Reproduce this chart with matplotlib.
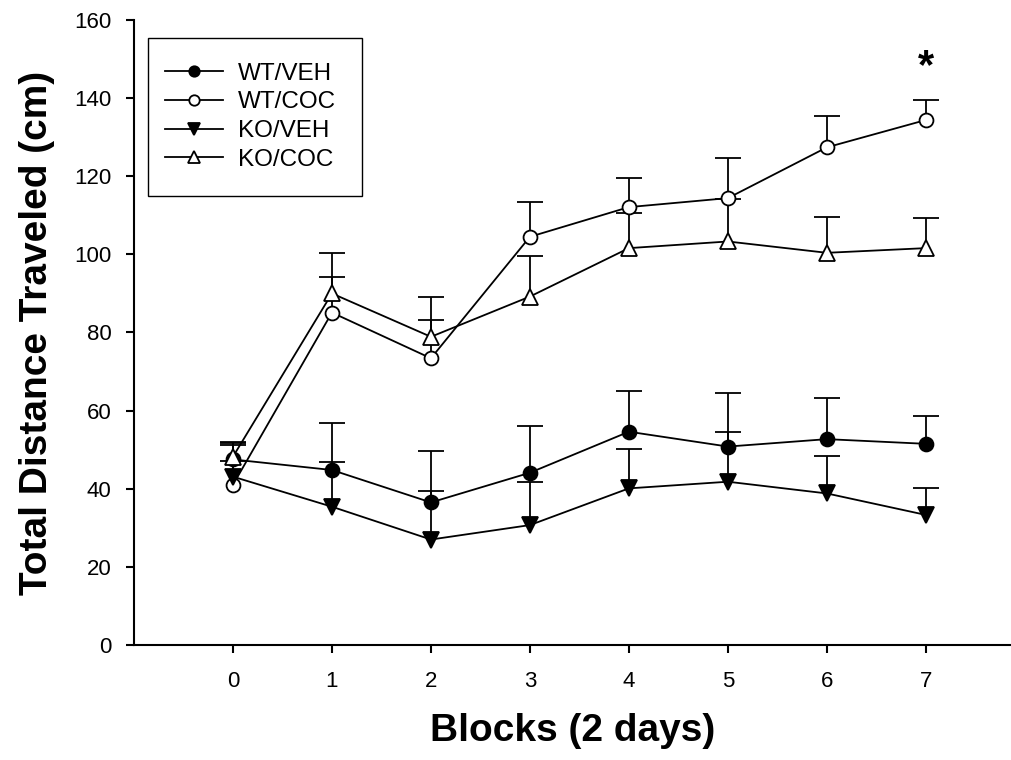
import numpy as np
import matplotlib
matplotlib.use("Agg")
import matplotlib.pyplot as plt
from matplotlib.lines import Line2D
from matplotlib.patches import Rectangle

plt.rcParams['font.family'] = ['Liberation Sans', 'DejaVu Sans']

# blocks of 2 days
blocks = [0, 1, 2, 3, 4, 5, 6, 7]

# group means and (upper) SEM
wt_veh = [47.5, 44.8, 36.5, 44.1, 54.6, 50.8, 52.7, 51.5]
wt_veh_err = [4.5, 12.1, 13.2, 12.0, 10.5, 13.8, 10.5, 7.0]
wt_coc = [41.0, 85.1, 73.4, 104.5, 112.1, 114.4, 127.4, 134.4]
wt_coc_err = [10.3, 9.2, 9.8, 9.0, 7.4, 10.2, 8.0, 5.1]
ko_veh = [43.1, 35.4, 27.0, 30.7, 40.1, 41.8, 38.8, 33.3]
ko_veh_err = [4.0, 11.4, 12.3, 11.0, 10.2, 12.7, 9.7, 6.8]
ko_coc = [48.2, 90.0, 78.9, 89.2, 101.6, 103.3, 100.4, 101.6]
ko_coc_err = [3.5, 10.4, 10.3, 10.4, 9.0, 10.8, 9.1, 7.6]

labels = ['WT/VEH', 'WT/COC', 'KO/VEH', 'KO/COC']
star_block = 7
star_y = 148

fig = plt.figure(figsize=(10.11, 7.6), dpi=100)
ax = fig.add_axes([0.1325, 0.1513, 0.8675, 0.8224])

series = [
    (wt_veh, wt_veh_err, 'o', 'black', 10),
    (wt_coc, wt_coc_err, 'o', 'white', 10),
    (ko_veh, ko_veh_err, 'v', 'black', 11),
    (ko_coc, ko_coc_err, '^', 'white', 11),
]

handles = []
for (y, e, m, fc, ms), lab in zip(series, labels):
    y = np.array(y)
    top = y + np.array(e)
    # one-sided error bars: stem + upper cap only
    ax.vlines(blocks, y, top, color='black', lw=1.3, zorder=2)
    ax.plot(blocks, top, ls='none', marker='_', ms=19, mew=1.3,
            color='black', zorder=2)
    ax.plot(blocks, y, '-', marker=m, color='black', mfc=fc, mec='black',
            ms=ms, mew=1.3, lw=1.3, zorder=3)
    handles.append(Line2D([], [], color='black', marker=m, mfc=fc,
                          mec='black', ms=ms * 0.75, mew=1.3, lw=1.3))

ax.text(star_block, star_y, '*', ha='center', va='center', fontsize=30,
        fontweight='bold')

ax.set_xlim(-1, 7.86)
ax.set_ylim(0, 160)
ax.set_xticks(blocks)
ax.set_yticks(np.arange(0, 161, 20))
ax.spines['top'].set_visible(False)
ax.spines['right'].set_visible(False)
ax.spines['left'].set_linewidth(1.5)
ax.spines['bottom'].set_linewidth(1.5)
ax.tick_params(axis='x', direction='out', length=6, width=1.5, pad=13,
               labelsize=16)
ax.tick_params(axis='y', direction='out', length=6, width=1.5, pad=10,
               labelsize=16)

ax.set_xlabel('Blocks (2 days)', fontsize=28, fontweight='bold', labelpad=15)
ax.set_ylabel('Total Distance Traveled (cm)', fontsize=28, fontweight='bold',
              labelpad=14)

# legend box drawn separately so its padding can differ in x and y
ax.add_patch(Rectangle((0.016, 0.7184), 0.244, 0.2528, transform=ax.transAxes,
                       fill=False, edgecolor='black', lw=1.0, zorder=4))
leg = ax.legend(handles=handles, labels=labels, loc='upper left',
                bbox_to_anchor=(0.0353, 0.932), fontsize=17.5, frameon=False,
                borderpad=0, handlelength=2.4, handletextpad=0.62,
                labelspacing=0.28, borderaxespad=0)

fig.savefig('out.png', dpi=100)
